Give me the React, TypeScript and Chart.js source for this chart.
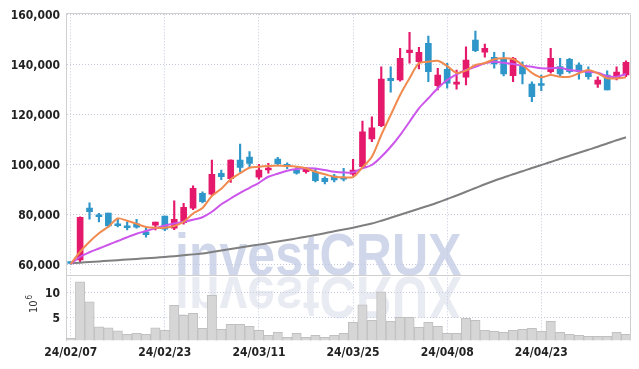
import React, { useEffect, useRef } from 'react';
import Chart from 'chart.js/auto';

const dates = [
  '24/02/07', '24/02/08', '24/02/13', '24/02/14', '24/02/15', '24/02/16', '24/02/19', '24/02/20', '24/02/21', '24/02/22',
  '24/02/23', '24/02/26', '24/02/27', '24/02/28', '24/02/29', '24/03/04', '24/03/05', '24/03/06', '24/03/07', '24/03/08',
  '24/03/11', '24/03/12', '24/03/13', '24/03/14', '24/03/15', '24/03/18', '24/03/19', '24/03/20', '24/03/21', '24/03/22',
  '24/03/25', '24/03/26', '24/03/27', '24/03/28', '24/03/29', '24/04/01', '24/04/02', '24/04/03', '24/04/04', '24/04/05',
  '24/04/08', '24/04/09', '24/04/11', '24/04/12', '24/04/15', '24/04/16', '24/04/17', '24/04/18', '24/04/19', '24/04/22',
  '24/04/23', '24/04/24', '24/04/25', '24/04/26', '24/04/29', '24/04/30', '24/05/02', '24/05/03', '24/05/07', '24/05/08',
];

const opens = [
  60500, 61700, 82500, 79700, 80500, 75800, 75300, 76200, 73000, 75600,
  79300, 74400, 76600, 82400, 88400, 88000, 96400, 94200, 101700, 102900,
  94800, 97700, 102100, 99500, 97700, 97000, 96900, 94400, 95300, 94800,
  96000, 99000, 110100, 115400, 134400, 133700, 144600, 141000, 148400, 131400,
  138000, 132000, 134800, 149700, 144800, 142800, 142000, 135400, 139300, 132100,
  132100, 137000, 139100, 142000, 139700, 137000, 132000, 135700, 134400, 135700,
];
const highs = [
  60700, 79000, 84600, 80400, 80500, 78200, 77000, 78000, 74800, 76900,
  79300, 85400, 84400, 91400, 89000, 101700, 97700, 101800, 108100, 105100,
  100000, 100400, 102800, 100600, 99000, 98800, 98000, 95000, 96000, 98400,
  102000, 117300, 119000, 139000, 139000, 146400, 152800, 146800, 151300, 138400,
  140400, 137700, 147000, 153300, 148100, 144800, 144800, 142800, 141000, 133000,
  135700, 146400, 142400, 142400, 140600, 139000, 135000, 137400, 139000, 141400,
];
const lows = [
  60000, 61000, 78000, 76900, 74800, 74900, 73700, 74400, 70800, 73700,
  73400, 73800, 76000, 81800, 84500, 87500, 93800, 92700, 96800, 99000,
  94000, 96400, 99300, 98200, 96000, 96400, 92900, 92100, 92900, 93300,
  95500, 98600, 109000, 115000, 128800, 133200, 140400, 138100, 133000, 129700,
  130400, 130000, 131700, 145000, 142800, 138400, 135300, 133000, 132100, 125000,
  129400, 136400, 135000, 136400, 134000, 134000, 130700, 129700, 133700, 135000,
];
const closes = [
  60300, 78800, 81000, 79000, 75300, 75400, 74600, 74800, 71800, 76900,
  74000, 78000, 82800, 90400, 85000, 96000, 95000, 101700, 98700, 100300,
  97700, 98500, 100200, 99200, 96400, 98400, 93400, 93000, 93700, 94000,
  97700, 113000, 114600, 134100, 133400, 142400, 145700, 144800, 137000, 135700,
  132400, 132900, 141700, 145400, 146400, 140100, 136100, 142400, 136100, 127000,
  131500, 142400, 136100, 137000, 137000, 135000, 133700, 129700, 136900, 140800,
];

// volume in millions of shares
const volumes = [
  0.8, 12.1, 8.1, 3.1, 2.9, 2.3, 1.6, 1.8, 1.6, 2.9,
  2.4, 7.4, 5.4, 5.8, 2.8, 9.4, 2.6, 3.6, 3.6, 3.2,
  2.4, 1.4, 2.0, 1.0, 1.8, 1.0, 1.4, 1.0, 1.4, 1.8,
  4.0, 7.5, 4.4, 10.1, 4.2, 5.0, 5.0, 3.0, 4.0, 3.2,
  1.8, 1.8, 4.8, 4.4, 2.4, 2.2, 2.0, 2.4, 2.6, 2.8,
  2.2, 4.2, 2.0, 1.6, 1.4, 1.2, 1.2, 1.2, 2.0, 1.6,
];

const maShort = [
  60100, 65000, 69000, 72400, 75000, 78300, 77400, 76200, 74900, 74600,
  74600, 75300, 77000, 80300, 82500, 87300, 90200, 94000, 96400, 98600,
  99000, 99300, 99500, 99300, 99000, 98400, 97000, 96000, 95000, 94800,
  94900, 98800, 103000, 111700, 119700, 127700, 134400, 140400, 141000, 141400,
  139300, 136600, 137500, 139700, 140500, 142000, 142400, 142100, 139700, 136600,
  134800, 135700, 135000, 135000, 136400, 137700, 136400, 134400, 134400, 134800,
];
const maMid = [
  60100, 63000, 64800, 66300, 67800, 69300, 70800, 72200, 73300, 74400,
  75500, 76300, 77000, 77800, 78800, 81000, 84000, 86300, 88600, 90600,
  92600, 95000, 96200, 97400, 98100, 98400, 98300, 97700, 97000, 96700,
  96800, 98400, 99700, 103000, 107000, 111700, 117000, 122400, 126400, 130400,
  133700, 136000, 137700, 139000, 140400, 141000, 140600, 140100, 139400, 139000,
  138400, 138400, 138600, 137700, 137300, 137000, 136600, 135300, 135000, 136100,
];
const maLong = [
  60400, 60650, 60900, 61150, 61400, 61650, 61900, 62150, 62400, 62650,
  62950, 63250, 63600, 63950, 64300, 64900, 65500, 66100, 66700, 67300,
  67850, 68450, 69100, 69700, 70350, 71000, 71700, 72400, 73200, 73900,
  74600, 75500, 76300, 77400, 78600, 79800, 81000, 82200, 83400, 84700,
  86100, 87500, 89000, 90500, 92000, 93400, 94700, 96000, 97200, 98500,
  99700, 100900, 102200, 103400, 104600, 105800, 107000, 108300, 109600, 110800,
];

const priceTicks = [60000, 80000, 100000, 120000, 140000, 160000];
const volumeTicks = [5, 10];
const volumeUnitBase = '10';
const volumeUnitExp = '6';
const watermarkText = 'investCRUX';

const UP = '#e5196b';
const DOWN = '#2e96c9';
const GRID = '#c5cadf';
const FRAME = '#cfcfcf';
const FONT = "'DejaVu Sans Condensed', 'DejaVu Sans', sans-serif";

const framePlugin = {
  id: 'frame',
  beforeDatasetsDraw(chart: any) {
    const { ctx, chartArea } = chart;
    const yb = chart.scales.y.bottom;
    const left = chartArea.left;
    const wmX = left + 109;
    ctx.save();
    ctx.font = `bold 60px 'Liberation Sans', Arial, sans-serif`;
    ctx.textBaseline = 'alphabetic';
    ctx.textAlign = 'left';
    ctx.save();
    ctx.translate(wmX, yb);
    ctx.scale(0.834, 1);
    ctx.fillStyle = 'rgba(192,201,228,0.75)';
    ctx.fillText(watermarkText, 0, 0);
    ctx.restore();
    ctx.save();
    ctx.translate(wmX, yb + 2);
    ctx.scale(0.834, -1);
    ctx.fillStyle = 'rgba(200,206,226,0.4)';
    ctx.fillText(watermarkText, 0, 0);
    ctx.restore();
    ctx.restore();
  },
  afterDraw(chart: any) {
    const { ctx, chartArea } = chart;
    const yb = chart.scales.y.bottom;
    ctx.save();
    ctx.strokeStyle = FRAME;
    ctx.lineWidth = 1;
    ctx.beginPath();
    ctx.moveTo(chartArea.left, Math.round(chartArea.top) - 0.5);
    ctx.lineTo(chartArea.right, Math.round(chartArea.top) - 0.5);
    ctx.moveTo(chartArea.left, Math.round(yb) + 0.5);
    ctx.lineTo(chartArea.right, Math.round(yb) + 0.5);
    ctx.moveTo(Math.round(chartArea.right) - 0.5, chartArea.top);
    ctx.lineTo(Math.round(chartArea.right) - 0.5, chartArea.bottom);
    ctx.stroke();
    // volume unit label (10^6), rotated
    ctx.fillStyle = '#333';
    ctx.translate(37, 313);
    ctx.rotate(-Math.PI / 2);
    ctx.font = `11px ${FONT}`;
    ctx.textAlign = 'left';
    ctx.textBaseline = 'alphabetic';
    ctx.fillText(volumeUnitBase, 0, 0);
    const w = ctx.measureText(volumeUnitBase).width;
    ctx.font = `8px ${FONT}`;
    ctx.fillText(volumeUnitExp, w + 1, -5);
    ctx.restore();
  },
};

export default function App() {
  const ref = useRef<HTMLCanvasElement>(null);
  useEffect(() => {
    const canvas = ref.current;
    if (!canvas) return;
    const colors = opens.map((o, i) => (closes[i] >= o ? UP : DOWN));
    const tickFont = { family: FONT, size: 12, weight: 'bold' as const };
    const chart = new Chart(canvas, {
      type: 'bar',
      data: {
        labels: dates,
        datasets: [
          {
            type: 'line', label: 'MA short', data: maShort, yAxisID: 'y', borderColor: '#f08a4e',
            borderWidth: 2, pointRadius: 0, tension: 0.3, order: 0,
          } as any,
          {
            type: 'line', label: 'MA mid', data: maMid, yAxisID: 'y', borderColor: '#cc55ec',
            borderWidth: 2, pointRadius: 0, tension: 0.3, order: 0,
          } as any,
          {
            type: 'line', label: 'MA long', data: maLong, yAxisID: 'y', borderColor: '#7f7f7f',
            borderWidth: 2, pointRadius: 0, tension: 0.3, order: 0,
          } as any,
          {
            type: 'bar', label: 'body', data: opens.map((o, i) => [o, closes[i]]), yAxisID: 'y',
            backgroundColor: colors, borderWidth: 0, barThickness: 6, grouped: false, minBarLength: 2, order: 1,
          } as any,
          {
            type: 'bar', label: 'wick', data: lows.map((l, i) => [l, highs[i]]), yAxisID: 'y',
            backgroundColor: colors, borderWidth: 0, barThickness: 1.5, grouped: false, order: 2,
          } as any,
          {
            type: 'bar', label: 'volume', data: volumes, yAxisID: 'yVol',
            backgroundColor: '#d6d6d6', borderColor: '#c0c0c0', borderWidth: 1,
            barPercentage: 1, categoryPercentage: 1, grouped: false, order: 3,
          } as any,
        ],
      },
      options: {
        responsive: false,
        animation: false,
        events: [],
        layout: { padding: { left: 0, right: 8.3, top: 14.3, bottom: 0 } },
        plugins: { legend: { display: false }, tooltip: { enabled: false } },
        scales: {
          x: {
            type: 'category',
            offset: true,
            grid: {
              offset: false,
              drawTicks: false,
              color: (c: any) => (c.index % 10 === 0 ? GRID : 'rgba(0,0,0,0)'),
            },
            border: { display: false, dash: [1, 2] },
            ticks: {
              autoSkip: false, maxRotation: 0, minRotation: 0, padding: 5, color: '#222', font: tickFont,
              callback: (_v: any, i: number) => (i % 10 === 0 ? dates[i] : ''),
            },
            afterFit: (s: any) => { s.height = 28.7; },
          },
          yVol: {
            type: 'linear', position: 'left', stack: 'main', stackWeight: 65.3,
            min: 0.4, max: 13.46,
            grid: { drawTicks: false, color: GRID },
            border: { display: true, color: FRAME, dash: [1, 2] },
            ticks: { padding: 6, labelOffset: 1.5, color: '#222', font: tickFont },
            afterBuildTicks: (s: any) => { s.ticks = volumeTicks.map((v) => ({ value: v })); },
            afterFit: (s: any) => { s.width = 66; },
          },
          y: {
            type: 'linear', position: 'left', stack: 'main', stackWeight: 260.7,
            min: 55700, max: 160000,
            grid: { drawTicks: false, color: GRID },
            border: { display: true, color: FRAME, dash: [1, 2] },
            ticks: {
              padding: 6, labelOffset: 1.5, color: '#222', font: tickFont,
              callback: (v: any) => Number(v).toLocaleString('en-US'),
            },
            afterBuildTicks: (s: any) => { s.ticks = priceTicks.map((v) => ({ value: v })); },
            afterFit: (s: any) => { s.width = 66; },
          },
        } as any,
      },
      plugins: [framePlugin],
    });
    return () => chart.destroy();
  }, []);
  return (
    <div style={{ position: 'absolute', left: 0, top: 0, width: 639, height: 369, background: '#fff' }}>
      <canvas ref={ref} width={639} height={369} style={{ display: 'block' }} />
    </div>
  );
}
